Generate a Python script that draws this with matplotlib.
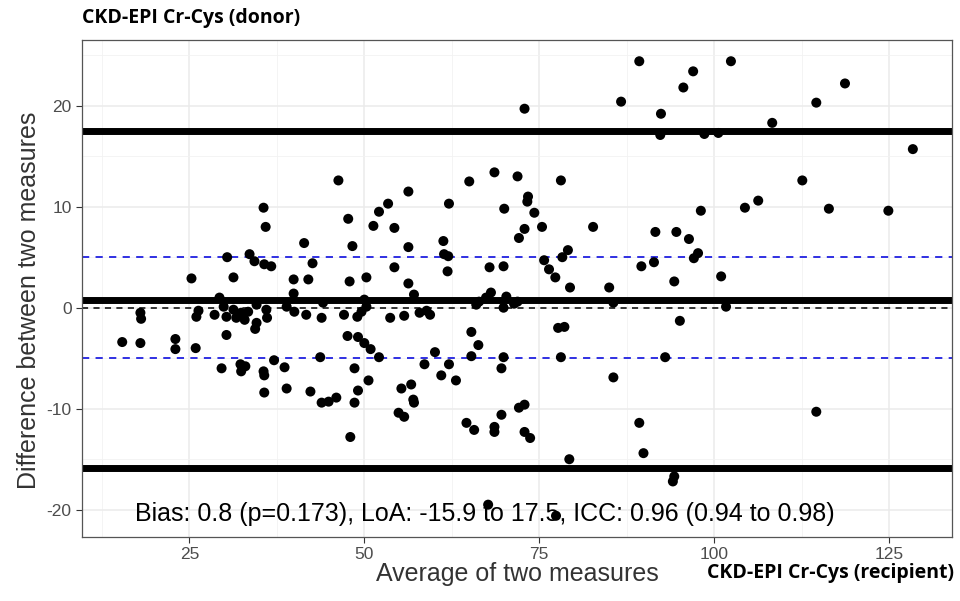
import numpy as np
import matplotlib.pyplot as plt
from matplotlib.ticker import MultipleLocator

# average of the two measures (x) and their difference (y)
avg = [15.4, 18.0, 18.1, 18.0, 23.0, 23.0, 25.9, 25.3, 26.3, 26.0,
       29.3, 28.6, 29.9, 30.3, 31.3, 31.7, 32.4, 32.9, 33.4, 34.6,
       34.6, 34.4, 30.3, 29.6, 32.3, 32.4, 33.0, 30.4, 31.3, 33.6,
       34.3, 35.6, 35.9, 35.7, 36.7, 41.4, 42.6, 39.9, 42.0, 39.9,
       46.3, 47.7, 48.3, 47.9, 50.3, 51.3, 52.1, 53.4, 54.3, 56.3,
       56.3, 54.3, 56.3, 57.1, 36.0, 36.1, 35.6, 35.7, 35.7, 37.1,
       38.6, 38.9, 38.9, 40.0, 41.7, 42.3, 43.9, 44.1, 43.7, 43.9,
       44.9, 46.0, 47.1, 47.6, 48.6, 49.1, 48.6, 48.0, 49.0, 49.6,
       50.3, 50.0, 49.1, 50.0, 50.9, 52.1, 50.6, 53.7, 55.7, 57.9,
       58.9, 59.4, 55.3, 56.7, 57.0, 57.1, 54.9, 55.7, 60.1, 58.6,
       61.0, 62.1, 63.1, 64.6, 65.7, 65.3, 66.3, 65.3, 66.0, 66.4,
       67.4, 68.1, 67.7, 68.6, 68.6, 69.6, 69.6, 69.9, 69.9, 70.3,
       71.4, 71.9, 72.1, 72.9, 72.9, 73.7, 77.4, 77.7, 78.6, 78.1,
       79.3, 79.4, 85.0, 85.6, 85.6, 89.3, 89.9, 61.3, 61.4, 62.0,
       61.9, 62.1, 65.0, 67.9, 68.6, 69.9, 70.0, 71.9, 72.1, 72.9,
       72.9, 73.3, 73.4, 74.3, 75.4, 75.7, 76.4, 77.3, 78.3, 79.1,
       78.1, 82.7, 86.7, 89.3, 89.6, 91.4, 91.6, 92.4, 92.3, 95.6,
       97.0, 98.6, 100.6, 102.4, 108.3, 114.6, 118.7, 128.4, 112.6, 104.4,
       106.3, 98.1, 116.4, 124.9, 94.6, 96.4, 97.7, 97.1, 94.3, 101.0,
       101.7, 95.1, 93.0, 114.6, 94.3, 94.1]
diff = [-3.4, -0.5, -1.1, -3.5, -3.1, -4.1, -4.0, 2.9, -0.3, -0.9,
        1.0, -0.7, 0.1, -0.9, -0.2, -1.0, -0.5, -1.2, -0.4, 0.3,
        -1.5, -2.1, -2.7, -6.0, -5.6, -6.3, -5.8, 5.0, 3.0, 5.3,
        4.6, 9.9, 8.0, 4.3, 4.1, 6.4, 4.4, 2.8, 2.8, 1.4,
        12.6, 8.8, 6.1, 2.6, 3.0, 8.1, 9.5, 10.3, 7.9, 11.5,
        6.0, 4.0, 2.4, 1.3, -0.2, -1.0, -6.3, -6.7, -8.4, -5.2,
        -5.9, -8.0, 0.1, -0.4, -0.7, -8.3, -1.0, 0.5, -4.9, -9.4,
        -9.3, -8.9, -0.7, -2.8, -6.0, -8.2, -9.4, -12.8, -0.9, -0.4,
        0.1, 0.8, -2.9, -3.5, -4.1, -4.9, -7.2, -1.0, -0.8, -0.5,
        -0.3, -0.7, -8.0, -7.6, -9.1, -9.4, -10.4, -10.8, -4.4, -5.6,
        -6.7, -5.6, -7.2, -11.4, -12.1, -2.4, -3.7, -4.8, 0.3, 0.6,
        1.0, 1.5, -19.5, -11.8, -12.3, -10.6, -6.0, -4.9, 0.0, 1.1,
        0.4, 0.6, -9.9, -9.6, -12.3, -12.9, -20.6, -2.0, -1.9, -4.9,
        -15.0, 2.0, 2.0, 0.5, -6.9, -11.4, -14.4, 6.6, 5.3, 5.1,
        3.6, 10.3, 12.5, 4.0, 13.4, 4.1, 9.8, 13.0, 6.9, 7.8,
        19.7, 10.5, 11.0, 9.4, 8.0, 4.7, 3.8, 3.0, 5.0, 5.7,
        12.6, 8.0, 20.4, 24.4, 4.1, 4.5, 7.5, 19.2, 17.1, 21.8,
        23.4, 17.2, 17.3, 24.4, 18.3, 20.3, 22.2, 15.7, 12.6, 9.9,
        10.6, 9.6, 9.8, 9.6, 7.5, 6.8, 5.4, 4.9, 2.6, 3.1,
        0.1, -1.3, -4.9, -10.3, -16.7, -17.2]

bias = 0.8
loa = [-15.9, 17.5]
ref_band = [-5, 5]
summary = "Bias: 0.8 (p=0.173), LoA: -15.9 to 17.5, ICC: 0.96 (0.94 to 0.98)"

plt.rcParams['font.family'] = ['Liberation Sans', 'DejaVu Sans']
plt.rcParams['axes.unicode_minus'] = False

fig = plt.figure(figsize=(9.6, 6.01), dpi=100)
ax = fig.add_axes([0.0854, 0.1065, 0.9063, 0.8269])

ax.set_xlim(9.65, 134)
ax.set_ylim(-22.7, 26.5)

ax.xaxis.set_major_locator(MultipleLocator(25))
ax.xaxis.set_minor_locator(MultipleLocator(12.5))
ax.yaxis.set_major_locator(MultipleLocator(10))
ax.yaxis.set_minor_locator(MultipleLocator(5))
ax.grid(True, which='major', color='#ebebeb', linewidth=1.1)
ax.grid(True, which='minor', color='#f2f2f2', linewidth=0.6)
ax.set_axisbelow(True)

ax.axhline(0, color='black', linestyle=(0, (4, 3.5)), linewidth=1.1, zorder=2)
for v in ref_band:
    ax.axhline(v, color='#2020e0', linestyle=(0, (4, 3.5)), linewidth=1.3, zorder=2)
for v in [bias] + loa:
    ax.axhline(v, color='black', linewidth=5, zorder=2)

ax.scatter(avg, diff, s=52, color='black', edgecolors='none', zorder=3)

ax.text(67.2, -20.4, summary, ha='center', va='center', fontsize=18, zorder=4)

for s in ax.spines.values():
    s.set_color('#555555')
    s.set_linewidth(0.9)
ax.tick_params(which='major', length=4, color='#333333', labelcolor='#4d4d4d',
               labelsize=12.5)
ax.tick_params(which='minor', length=0)

ax.set_xlabel('Average of two measures', fontsize=18, color='#333333', labelpad=0)
ax.set_ylabel('Difference between two measures', fontsize=18, color='#333333')
ax.yaxis.set_label_coords(-0.047, 0.477)

fig.text(82 / 960, 1 - 18 / 601, 'CKD-EPI Cr-Cys (donor)', fontsize=14,
         fontweight='bold', family=['Open Sans', 'DejaVu Sans'], va='center', ha='left')
fig.text(954 / 960, 1 - 573 / 601, 'CKD-EPI Cr-Cys (recipient)', fontsize=14,
         fontweight='bold', family=['Open Sans', 'DejaVu Sans'], va='center', ha='right')

fig.savefig('out.png', dpi=100)
